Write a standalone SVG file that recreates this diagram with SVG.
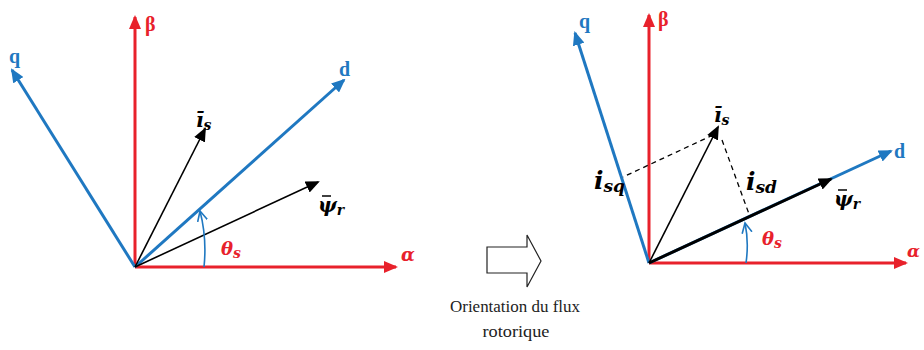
<svg xmlns="http://www.w3.org/2000/svg" width="924" height="350" viewBox="0 0 924 350">
<style>
.red{stroke:#e8212b;stroke-width:3;fill:none}
.blue{stroke:#1f78c1;stroke-width:3;fill:none}
.blk{stroke:#000;stroke-width:1.6;fill:none}
.blkT{stroke:#000;stroke-width:3;fill:none}
.dash{stroke:#000;stroke-width:1.3;fill:none;stroke-dasharray:5,4}
.arc{stroke:#1f78c1;stroke-width:1.6;fill:none}
.bar{stroke:#000;stroke-width:1.5}
.lbl{font-family:"Liberation Serif",serif;font-weight:bold;font-size:20px}
.math{font-family:"DejaVu Serif",serif;font-weight:bold;font-style:italic}
.cap{font-family:"Liberation Serif",serif;font-size:17px;fill:#222}
</style>
<defs>
<marker id="ar" markerUnits="userSpaceOnUse" markerWidth="14" markerHeight="12" refX="12" refY="6" orient="auto"><path d="M0,0 L14,6 L0,12 Z" fill="#e8212b"/></marker>
<marker id="ab" markerUnits="userSpaceOnUse" markerWidth="14" markerHeight="12" refX="12" refY="6" orient="auto"><path d="M0,0 L14,6 L0,12 Z" fill="#1f78c1"/></marker>
<marker id="ak" markerUnits="userSpaceOnUse" markerWidth="14" markerHeight="12" refX="12" refY="6" orient="auto"><path d="M0,0 L14,6 L0,12 Z" fill="#000"/></marker>
<marker id="av" markerUnits="userSpaceOnUse" markerWidth="12" markerHeight="12" refX="10" refY="6" orient="auto"><path d="M0,1 L10,6 L0,11" fill="none" stroke="#1f78c1" stroke-width="1.6"/></marker>
</defs>

<g id="left">
  <g id="connectors-left">
    <line class="red" x1="135" y1="267" x2="135" y2="17" marker-end="url(#ar)"/>
    <line class="red" x1="135" y1="267" x2="396" y2="267" marker-end="url(#ar)"/>
    <line class="blue" x1="135" y1="267" x2="12" y2="70" marker-end="url(#ab)"/>
    <line class="blue" x1="135" y1="267" x2="344" y2="80" marker-end="url(#ab)"/>
    <line class="blk" x1="135" y1="267" x2="205" y2="129" marker-end="url(#ak)"/>
    <line class="blk" x1="135" y1="267" x2="318" y2="182" marker-end="url(#ak)"/>
    <path class="arc" d="M204,267 Q207,238 200,211" marker-end="url(#av)"/>
  </g>
  <g id="labels-left">
    <text class="lbl" x="145" y="31" fill="#e8212b">β</text>
    <text class="lbl" x="9" y="63" fill="#1f78c1">q</text>
    <text class="lbl" x="339" y="76" fill="#1f78c1">d</text>
    <text class="math" x="401" y="261" font-size="18" fill="#e8212b">α</text>
    <text class="math" x="196" y="127" font-size="20" fill="#000">ī<tspan font-size="14" dy="3">s</tspan></text>
    <text class="math" x="318" y="212" font-size="20" fill="#000">ψ<tspan font-size="14" dy="3">r</tspan></text>
    <line class="bar" x1="322" y1="196" x2="331" y2="196"/>
    <text class="math" x="221" y="255" font-size="18" fill="#e8212b">θ<tspan font-size="14" dy="3">s</tspan></text>
  </g>
</g>

<g id="transition">
  <path d="M487,247 H527 V235 L541,261 L527,287 V273 H487 Z" fill="#fff" stroke="#222" stroke-width="1.2"/>
  <text class="cap" x="515" y="312" text-anchor="middle" textLength="130" lengthAdjust="spacingAndGlyphs">Orientation du flux</text>
  <text class="cap" x="516" y="337" text-anchor="middle" textLength="67" lengthAdjust="spacingAndGlyphs">rotorique</text>
</g>

<g id="right">
  <g id="connectors-right">
    <line class="red" x1="649" y1="263" x2="649" y2="15" marker-end="url(#ar)"/>
    <line class="red" x1="649" y1="263" x2="906" y2="263" marker-end="url(#ar)"/>
    <line class="blue" x1="649" y1="263" x2="575" y2="33" marker-end="url(#ab)"/>
    <line class="blue" x1="649" y1="263" x2="891" y2="151" marker-end="url(#ab)"/>
    <line class="blkT" x1="649" y1="263" x2="831" y2="179" marker-end="url(#ak)"/>
    <line class="blk" x1="649" y1="263" x2="718" y2="127" marker-end="url(#ak)"/>
    <line class="dash" x1="713" y1="135" x2="623" y2="177"/>
    <line class="dash" x1="722" y1="140" x2="749" y2="214"/>
    <path class="arc" d="M746,263 Q749,242 745,223" marker-end="url(#av)"/>
  </g>
  <g id="labels-right">
    <text class="lbl" x="658" y="26" fill="#e8212b">β</text>
    <text class="lbl" x="579" y="28" fill="#1f78c1">q</text>
    <text class="lbl" x="894" y="158" fill="#1f78c1">d</text>
    <text class="math" x="907" y="257" font-size="17" fill="#e8212b">α</text>
    <text class="math" x="714" y="122" font-size="20" fill="#000">ī<tspan font-size="14" dy="3">s</tspan></text>
    <text class="math" x="594" y="189" font-size="25" fill="#000">i<tspan font-size="17" dy="3">sq</tspan></text>
    <text class="math" x="746" y="190" font-size="25" fill="#000">i<tspan font-size="17" dy="3">sd</tspan></text>
    <text class="math" x="834" y="206" font-size="20" fill="#000">ψ<tspan font-size="14" dy="3">r</tspan></text>
    <line class="bar" x1="838" y1="190" x2="847" y2="190"/>
    <text class="math" x="762" y="245" font-size="18" fill="#e8212b">θ<tspan font-size="14" dy="3">s</tspan></text>
  </g>
</g>
</svg>
